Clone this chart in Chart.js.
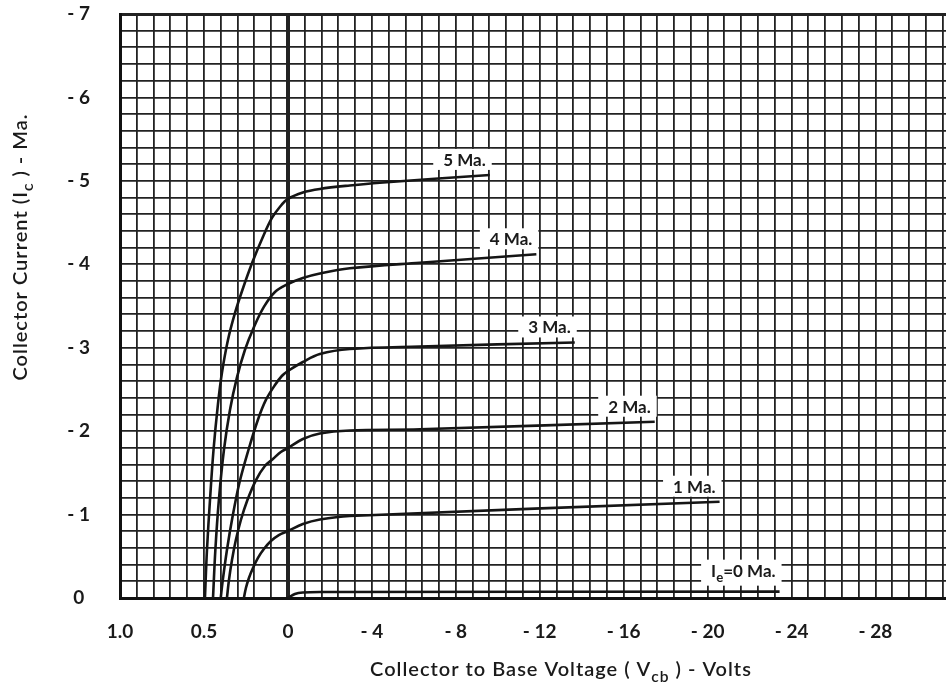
<!DOCTYPE html>
<html>
<head>
<meta charset="utf-8">
<title>Collector characteristics</title>
<script src="https://cdn.jsdelivr.net/npm/chart.js@4.4.1/dist/chart.umd.min.js"></script>
<style>
  html, body { margin: 0; padding: 0; background: #fff; }
  #wrap { width: 946px; height: 690px; position: relative; }
</style>
</head>
<body>
<div id="wrap"><canvas id="chart"></canvas></div>
<script>
  // Vcb in volts (positive = forward), Ic in mA (negative, as on the axis)
  const ie0V = [0, -0.333, -0.714, -1.524, -23.43];
  const ie0I = [0, -0.048, -0.066, -0.072, -0.076];

  const ie1V = [0.262, 0.25, 0.232, 0.208, 0.179, 0.143, 0.101, 0.054, 0, -0.714, -1.524, -2.952, -20.57];
  const ie1I = [0, -0.12, -0.24, -0.36, -0.479, -0.587, -0.683, -0.755, -0.803, -0.887, -0.941, -0.983, -1.154];

  const ie2V = [0.363, 0.351, 0.333, 0.31, 0.28, 0.241, 0.19, 0.137, 0.089, 0.042, 0, -0.714, -1.524, -2.952, -6.286, -17.48];
  const ie2I = [0, -0.216, -0.455, -0.695, -0.935, -1.175, -1.414, -1.582, -1.666, -1.75, -1.798, -1.906, -1.972, -2.008, -2.022, -2.113];

  const ie3V = [0.4, 0.39, 0.363, 0.33, 0.289, 0.235, 0.179, 0.131, 0.077, 0.036, 0, -0.714, -1.524, -2.952, -6.286, -13.67];
  const ie3I = [0, -0.18, -0.576, -0.971, -1.379, -1.774, -2.134, -2.374, -2.553, -2.661, -2.721, -2.829, -2.925, -2.985, -3.015, -3.063];

  const ie4V = [0.446, 0.432, 0.411, 0.381, 0.345, 0.304, 0.256, 0.202, 0.143, 0.077, 0, -0.714, -1.524, -2.952, -6.286, -11.84];
  const ie4I = [0, -0.575, -1.175, -1.774, -2.254, -2.638, -2.973, -3.249, -3.489, -3.668, -3.764, -3.836, -3.89, -3.952, -4.019, -4.12];

  const ie5V = [0.494, 0.482, 0.464, 0.443, 0.417, 0.393, 0.357, 0.315, 0.271, 0.211, 0.149, 0.095, 0.048, 0, -0.714, -1.524, -2.952, -4.381, -9.619];
  const ie5I = [0, -0.575, -1.175, -1.774, -2.314, -2.697, -3.093, -3.417, -3.692, -4.027, -4.327, -4.555, -4.687, -4.783, -4.861, -4.903, -4.945, -4.978, -5.071];

  const curveLabels = ['I_{e}=0 Ma.', '1 Ma.', '2 Ma.', '3 Ma.', '4 Ma.', '5 Ma.'];
  const curveV = [ie0V, ie1V, ie2V, ie3V, ie4V, ie5V];
  const curveI = [ie0I, ie1I, ie2I, ie3I, ie4I, ie5I];

  const yTitle = 'Collector Current (I_{c} ) - Ma.';
  const xTitle = 'Collector to Base Voltage ( V_{cb} ) - Volts';

  // axis is split: 0.5 V per major division on the forward side, 4 V per division on the reverse side
  function toAxis(v) {
    return v >= 0 ? -2 * v : -v / 4;
  }
  function isWhole(v) {
    return Math.abs(v - Math.round(v)) < 1e-6;
  }
  function xTickLabel(u) {
    if (!isWhole(u)) return '';
    u = Math.round(u);
    if (u < 0) return (-u / 2).toFixed(1);
    if (u === 0) return '0';
    return '- ' + (u * 4);
  }
  function yTickLabel(v) {
    if (!isWhole(v)) return '';
    v = Math.round(v);
    return v === 0 ? '0' : '- ' + (-v);
  }

  // little text helper for subscripts written as _{..}
  function richParts(text) {
    const parts = [];
    const re = /_\{([^}]*)\}/g;
    let last = 0, m;
    while ((m = re.exec(text))) {
      if (m.index > last) parts.push({ t: text.slice(last, m.index), sub: false });
      parts.push({ t: m[1], sub: true });
      last = re.lastIndex;
    }
    if (last < text.length) parts.push({ t: text.slice(last), sub: false });
    return parts;
  }
  function richWidth(ctx, text, size, weight) {
    let w = 0;
    richParts(text).forEach(p => {
      ctx.font = weight + ' ' + (p.sub ? size * 0.78 : size) + 'px Lato';
      w += ctx.measureText(p.t).width;
    });
    return w;
  }
  function drawRich(ctx, text, x, baseline, size, weight) {
    let cx = x;
    ctx.textAlign = 'left';
    ctx.textBaseline = 'alphabetic';
    richParts(text).forEach(p => {
      ctx.font = weight + ' ' + (p.sub ? size * 0.78 : size) + 'px Lato';
      ctx.fillText(p.t, cx, baseline + (p.sub ? size * 0.32 : 0));
      cx += ctx.measureText(p.t).width;
    });
  }

  const curveLabelPlugin = {
    id: 'curveLabels',
    afterDatasetsDraw(chart) {
      const ctx = chart.ctx;
      ctx.save();
      chart.data.datasets.forEach((ds, i) => {
        const pts = chart.getDatasetMeta(i).data;
        const end = pts[pts.length - 1];
        const size = 17;
        const hasSub = ds.label.indexOf('_{') >= 0;
        const w = richWidth(ctx, ds.label, size, 'bold');
        const right = end.x - 4;
        const mid = end.y - (hasSub ? 21 : 15);
        ctx.fillStyle = '#fff';
        ctx.fillRect(right - w - 10, mid - 11, w + 16, hasSub ? 26 : 21);
        ctx.fillStyle = '#1a1a1a';
        drawRich(ctx, ds.label, right - w, mid + 6, size, 'bold');
      });
      ctx.restore();
    }
  };

  const axisTitlePlugin = {
    id: 'axisTitles',
    afterDraw(chart) {
      const ctx = chart.ctx;
      const size = 20;
      ctx.save();
      ctx.fillStyle = '#1a1a1a';
      ctx.letterSpacing = '1px';
      let w = richWidth(ctx, xTitle, size, '600');
      drawRich(ctx, xTitle, 561 - w / 2, 676, size, '600');
      ctx.translate(27, 247);
      ctx.rotate(-Math.PI / 2);
      w = richWidth(ctx, yTitle, size, '600');
      drawRich(ctx, yTitle, -w / 2, 0, size, '600');
      ctx.restore();
    }
  };

  // scales add their tick padding to the chart area; keep the grid flush with the frame
  function noScalePadding(s) {
    s.paddingTop = 0;
    s.paddingBottom = 0;
    s.paddingLeft = 0;
    s.paddingRight = 0;
  }

  const datasets = curveLabels.map((lab, k) => ({
    label: lab,
    data: curveV[k].map((v, j) => ({ x: toAxis(v), y: curveI[k][j] })),
    borderColor: '#151515',
    borderWidth: 2.6,
    pointRadius: 0,
    fill: false,
    tension: 0.35
  }));

  const tickFont = { family: 'Lato', size: 19, weight: 'bold' };
  const gridColor = '#222';

  new Chart(document.getElementById('chart'), {
    type: 'line',
    data: { datasets: datasets },
    options: {
      responsive: true,
      maintainAspectRatio: false,
      animation: false,
      layout: { padding: { top: 14, right: 0, left: 0, bottom: 0 } },
      plugins: {
        legend: { display: false },
        tooltip: { enabled: false }
      },
      scales: {
        x: {
          type: 'linear',
          min: -2,
          max: 7.84,
          afterFit: s => { s.height = 92; noScalePadding(s); },
          grid: {
            color: gridColor,
            lineWidth: c => (c.tick && c.tick.value === 0) ? 4 : 1.8,
            drawTicks: false
          },
          border: { display: true, color: '#111', width: 3 },
          ticks: {
            stepSize: 0.2,
            includeBounds: false,
            autoSkip: false,
            maxRotation: 0,
            padding: 22,
            color: '#1a1a1a',
            font: tickFont,
            callback: v => xTickLabel(v)
          }
        },
        y: {
          type: 'linear',
          min: -7,
          max: 0,
          reverse: true,
          afterFit: s => { s.width = 120; noScalePadding(s); },
          grid: {
            color: gridColor,
            lineWidth: c => (c.tick && c.tick.value === -7) ? 3 : 1.8,
            drawTicks: false
          },
          border: { display: true, color: '#111', width: 3 },
          ticks: {
            stepSize: 0.2,
            autoSkip: false,
            crossAlign: 'center',
            padding: 30,
            color: '#1a1a1a',
            font: tickFont,
            callback: v => yTickLabel(v)
          }
        }
      }
    },
    plugins: [curveLabelPlugin, axisTitlePlugin]
  });
</script>
</body>
</html>
